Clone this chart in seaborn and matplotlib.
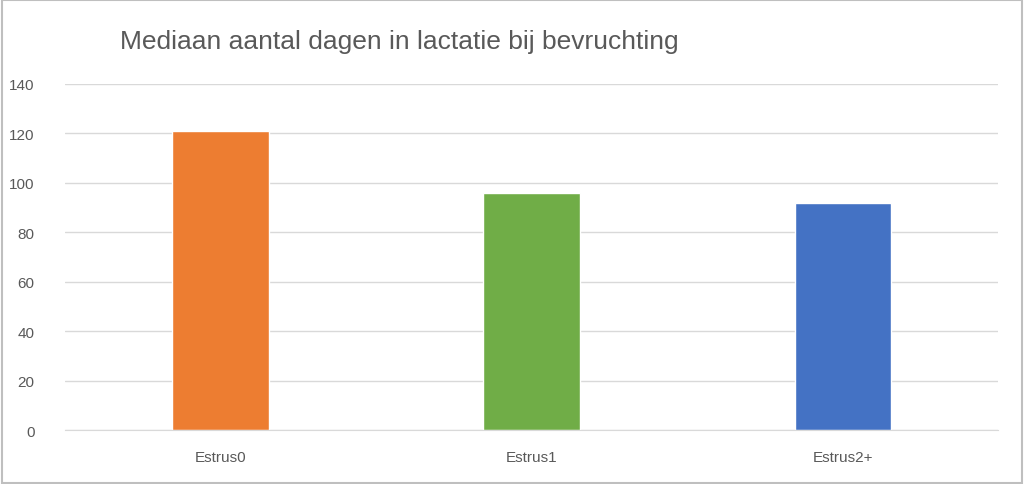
import matplotlib
matplotlib.use("Agg")
import matplotlib.pyplot as plt
import seaborn as sns
import pandas as pd
from matplotlib.patches import Rectangle

categories = ["Estrus0", "Estrus1", "Estrus2+"]
values = [121, 96, 92]
colors = ["#ED7D31", "#70AD47", "#4472C4"]

sns.set_style("white")
plt.rcParams['font.family'] = ['Liberation Sans', 'DejaVu Sans']

fig = plt.figure(figsize=(10.24, 4.85), dpi=100)
ax = fig.add_axes([0.0635, 0.111, 0.9115, 0.714])
df = pd.DataFrame({"cat": categories, "val": values})
sns.barplot(data=df, x="cat", y="val", hue="cat", palette=colors, width=0.31,
            legend=False, ax=ax, saturation=1)
ax.set_ylim(0, 140)
ax.set_yticks(range(0, 141, 20))
ax.yaxis.grid(True, color="#D9D9D9", linewidth=1)
ax.set_axisbelow(True)
for s in ["top", "right", "left"]:
    ax.spines[s].set_visible(False)
ax.spines["bottom"].set_color("#D9D9D9")
ax.set_xlabel("")
ax.set_ylabel("")
ax.tick_params(axis="both", length=0, labelsize=11, labelcolor="#595959", pad=14)
ax.tick_params(axis="y", pad=22)
fig.text(0.117, 0.913, "Mediaan aantal dagen in lactatie bij bevruchting",
         fontsize=19, color="#595959", va="center", ha="left")
fig.patches.append(Rectangle((0.002, 0.003), 0.996, 0.994, transform=fig.transFigure,
                             fill=False, edgecolor="#BFBFBF", linewidth=1.5))
fig.savefig("out.png", dpi=100)
